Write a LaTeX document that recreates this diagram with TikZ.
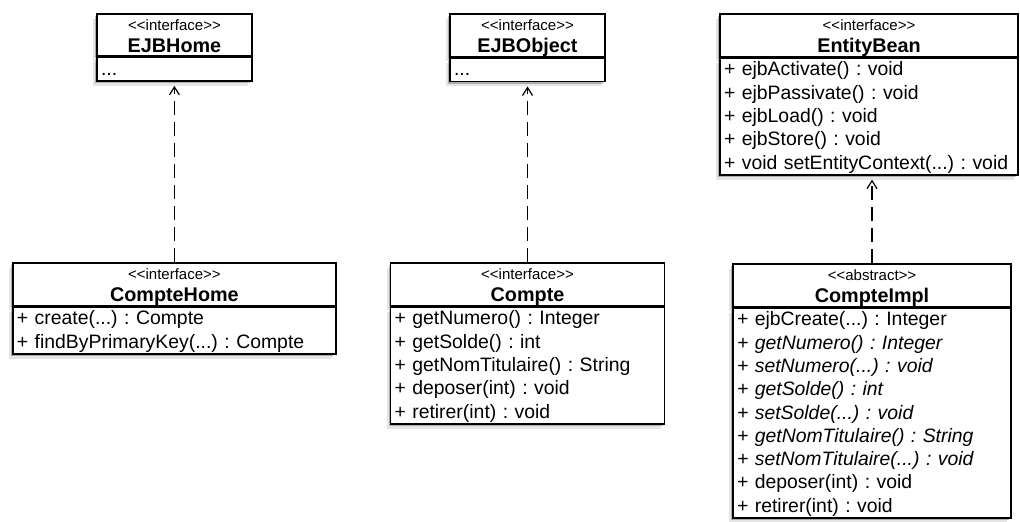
\documentclass[tikz,border=0pt]{standalone}
\usepackage{fontspec}
\setmainfont{Liberation Sans}
\usetikzlibrary{positioning,shadows,arrows.meta}
\frenchspacing

\newcommand{\stereo}[1]{{\fontsize{7.5}{9}\selectfont<\kern0pt<#1>\kern0pt>}}
\newcommand{\headtext}[2]{\rule{0pt}{8.5pt}\stereo{#1}\\\textbf{#2}\rule[-1.75pt]{0pt}{1.75pt}}
\newcommand{\opsfirst}{\rule{0pt}{9pt}}
\newcommand{\opslast}{\rule[-2.9pt]{0pt}{2.9pt}}

\tikzset{
  classshadow/.style={drop shadow={shadow xshift=-.8pt, shadow yshift=-1.2pt, opacity=.25, fill=black},
                      drop shadow={shadow xshift=-1.8pt, shadow yshift=-2.4pt, opacity=.1, fill=black}},
  classhead/.style={draw, fill=white, line width=.75pt, classshadow, text width=#1, align=center,
                    inner xsep=2pt, inner ysep=0pt, font=\fontsize{9.9}{10.75}\selectfont},
  classops/.style={draw, fill=white, line width=.75pt, classshadow, text width=#1, align=left,
                   inner xsep=2pt, inner ysep=0pt, font=\fontsize{9.7}{11.65}\selectfont},
  realizes/.style={draw, line width=.6pt, dash pattern=on 7pt off 3.5pt,
                   -{Straight Barb[length=4pt,width=5pt]}, shorten >=2pt}
}

\begin{document}
\begin{tikzpicture}[x=.5pt, y=-.5pt]     % coordinates in pixels of the page
  \useasboundingbox (0,0) rectangle (1020,521);

  % interfaces of the container
  \node[classhead=73.5pt, anchor=north] (ejbhome) at (174.5,13) {\headtext{interface}{EJBHome}};
  \node[classops=73.5pt, below=0pt of ejbhome] (ejbhomeops) {\opsfirst...\opslast};

  \node[classhead=73.5pt, anchor=north] (ejbobject) at (527.5,13) {\headtext{interface}{EJBObject}};
  \node[classops=73.5pt, below=0pt of ejbobject] (ejbobjectops) {\opsfirst...\opslast};

  \node[classhead=145pt, anchor=north] (entitybean) at (869,13) {\headtext{interface}{EntityBean}};
  \node[classops=145pt, below=0pt of entitybean] (entitybeanops) {\opsfirst+ ejbActivate() : void\\
    + ejbPassivate() : void\\
    + ejbLoad() : void\\
    + ejbStore() : void\\
    + void setEntityContext(...) : void\opslast};

  % the bean
  \node[classhead=157.5pt, anchor=north] (comptehome) at (174.4,262) {\headtext{interface}{CompteHome}};
  \node[classops=157.5pt, below=0pt of comptehome] (comptehomeops) {\opsfirst+ create(...) : Compte\\
    + findByPrimaryKey(...) : Compte\opslast};

  \node[classhead=133pt, anchor=north] (compte) at (527.5,262) {\headtext{interface}{Compte}};
  \node[classops=133pt, below=0pt of compte] (compteops) {\opsfirst+ getNumero() : Integer\\
    + getSolde() : int\\
    + getNomTitulaire() : String\\
    + deposer(int) : void\\
    + retirer(int) : void\opslast};

  \node[classhead=135pt, anchor=north] (compteimpl) at (872,263) {\headtext{abstract}{CompteImpl}};
  \node[classops=135pt, below=0pt of compteimpl] (compteimplops) {\opsfirst+ ejbCreate(...) : Integer\\
    \textit{+ getNumero() : Integer}\\
    \textit{+ setNumero(...) : void}\\
    \textit{+ getSolde() : int}\\
    \textit{+ setSolde(...) : void}\\
    \textit{+ getNomTitulaire() : String}\\
    \textit{+ setNomTitulaire(...) : void}\\
    + deposer(int) : void\\
    + retirer(int) : void\opslast};

  % realizations
  \draw[realizes] (comptehome.north) -- (comptehome.north |- ejbhomeops.south);
  \draw[realizes] (compte.north) -- (compte.north |- ejbobjectops.south);
  \draw[realizes] (compteimpl.north) -- (compteimpl.north |- entitybeanops.south);
\end{tikzpicture}
\end{document}
